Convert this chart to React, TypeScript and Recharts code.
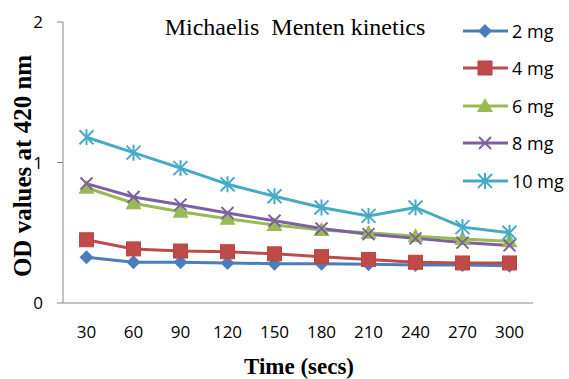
import React from "react";
import { LineChart, Line, XAxis, YAxis, Legend } from "recharts";

const times = [30, 60, 90, 120, 150, 180, 210, 240, 270, 300];
const mg2 = [0.325, 0.29, 0.29, 0.285, 0.28, 0.28, 0.275, 0.27, 0.27, 0.265];
const mg4 = [0.45, 0.385, 0.37, 0.365, 0.35, 0.33, 0.31, 0.29, 0.285, 0.285];
const mg6 = [0.82, 0.71, 0.65, 0.6, 0.555, 0.52, 0.5, 0.475, 0.455, 0.44];
const mg8 = [0.85, 0.755, 0.7, 0.64, 0.585, 0.53, 0.49, 0.46, 0.43, 0.41];
const mg10 = [1.18, 1.07, 0.96, 0.845, 0.76, 0.68, 0.62, 0.68, 0.54, 0.5];
const yTicks = [0, 1, 2];

const SERIES = [
    { key: "mg2", name: "2 mg", color: "#4a7ebb", shape: "diamond" },
    { key: "mg4", name: "4 mg", color: "#be4b48", shape: "square" },
    { key: "mg6", name: "6 mg", color: "#98b954", shape: "triangle" },
    { key: "mg8", name: "8 mg", color: "#7d60a0", shape: "x" },
    { key: "mg10", name: "10 mg", color: "#46aac5", shape: "star" },
];

const data = times.map((t, i) => ({
    time: t,
    mg2: mg2[i],
    mg4: mg4[i],
    mg6: mg6[i],
    mg8: mg8[i],
    mg10: mg10[i],
}));

function Marker({ shape, cx, cy, color }: { shape: string; cx: number; cy: number; color: string }) {
    if (shape === "diamond") {
        const r = 7;
        return <polygon points={`${cx},${cy - r} ${cx + r},${cy} ${cx},${cy + r} ${cx - r},${cy}`} fill={color} />;
    }
    if (shape === "square") {
        return <rect x={cx - 7} y={cy - 7} width={14} height={14} fill={color} stroke="#b84541" strokeWidth={1} />;
    }
    if (shape === "triangle") {
        return <polygon points={`${cx},${cy - 8} ${cx + 8},${cy + 6} ${cx - 8},${cy + 6}`} fill={color} />;
    }
    if (shape === "x") {
        const r = 6;
        return (
            <g stroke={color} strokeWidth={2}>
                <line x1={cx - r} y1={cy - r} x2={cx + r} y2={cy + r} />
                <line x1={cx - r} y1={cy + r} x2={cx + r} y2={cy - r} />
            </g>
        );
    }
    const r = 7;
    return (
        <g stroke={color} strokeWidth={2}>
            <line x1={cx - r} y1={cy - r} x2={cx + r} y2={cy + r} />
            <line x1={cx - r} y1={cy + r} x2={cx + r} y2={cy - r} />
            <line x1={cx} y1={cy - r - 1} x2={cx} y2={cy + r + 1} />
        </g>
    );
}

function LegendContent() {
    return (
        <div style={{ width: 110 }}>
            {SERIES.map((s) => (
                <div key={s.key} style={{ display: "flex", alignItems: "center", height: 37.5 }}>
                    <svg width={48} height={20}>
                        <line x1={1} y1={10} x2={46} y2={10} stroke={s.color} strokeWidth={3} />
                        <Marker shape={s.shape} cx={23} cy={10} color={s.color} />
                    </svg>
                    <span style={{ fontFamily: "'Open Sans'", fontSize: 18, color: "#000", marginLeft: 2 }}>{s.name}</span>
                </div>
            ))}
        </div>
    );
}

export default function App() {
    return (
        <div style={{ position: "absolute", left: 0, top: 0, width: 569, height: 379, background: "#fff" }}>
            <LineChart width={569} height={379} data={data} margin={{ top: 22, right: 36, bottom: 46, left: 0 }}>
                <text x={295} y={35} textAnchor="middle" fontFamily="'Liberation Serif'" fontSize={24} fill="#000" style={{ whiteSpace: "pre" }}>
                    {"Michaelis\u00a0 Menten kinetics"}
                </text>
                <text
                    x={0}
                    y={0}
                    transform="translate(31,166) rotate(-90)"
                    textAnchor="middle"
                    fontFamily="'Liberation Serif'"
                    fontWeight="bold"
                    fontSize={25}
                    fill="#000"
                >
                    OD values at 420 nm
                </text>
                <text x={299} y={374} textAnchor="middle" fontFamily="'Liberation Serif'" fontWeight="bold" fontSize={23} fill="#000">
                    Time (secs)
                </text>
                <XAxis
                    dataKey="time"
                    padding={{ left: 23.5, right: 23.5 }}
                    tickLine={false}
                    axisLine={{ stroke: "#868686", strokeWidth: 1 }}
                    tickMargin={17}
                    tick={{ fill: "#000", fontSize: 17, fontFamily: "'Open Sans'" }}
                    height={30}
                />
                <YAxis
                    width={63}
                    domain={[0, 2]}
                    ticks={yTicks}
                    tickSize={6}
                    tickMargin={14}
                    axisLine={{ stroke: "#868686", strokeWidth: 1 }}
                    tickLine={{ stroke: "#868686" }}
                    tick={{ fill: "#000", fontSize: 17, fontFamily: "'Open Sans'" }}
                />
                <Legend
                    layout="horizontal"
                    align="center"
                    verticalAlign="middle"
                    content={LegendContent}
                    wrapperStyle={{ position: "absolute", left: 462, top: 12, width: 110 }}
                />
                {SERIES.map((s) => (
                    <Line
                        key={s.key}
                        dataKey={s.key}
                        name={s.name}
                        stroke={s.color}
                        strokeWidth={3}
                        isAnimationActive={false}
                        dot={(p: any) => <Marker key={`${s.key}-${p.index}`} shape={s.shape} cx={p.cx} cy={p.cy} color={s.color} />}
                        activeDot={false}
                    />
                ))}
            </LineChart>
        </div>
    );
}
